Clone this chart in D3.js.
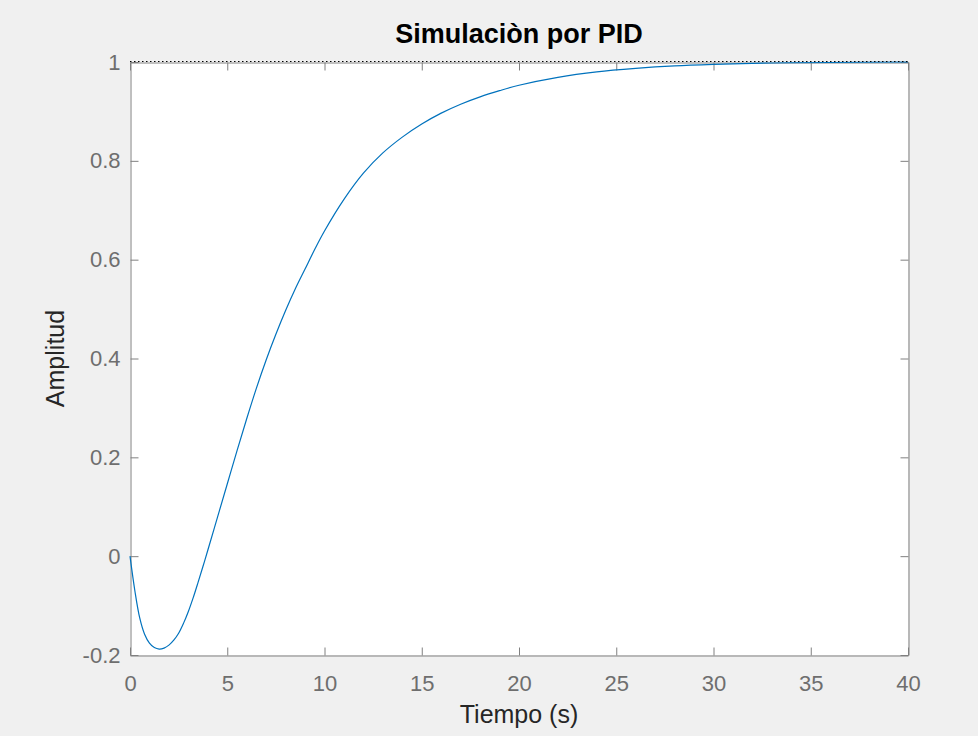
<!DOCTYPE html>
<html>
<head>
<meta charset="utf-8">
<script src="https://cdn.jsdelivr.net/npm/d3@7"></script>
<style>
  body { margin: 0; background: #f0f0f0; }
  svg { display: block; font-family: "Liberation Sans", Arial, sans-serif; }
</style>
</head>
<body>
<div class="grafico"></div>
<script>
// step response
const tiempo = [0, 0.25, 0.5, 0.75, 1, 1.25, 1.5, 1.75, 2, 2.25, 2.5, 2.75, 3, 3.25, 3.5, 3.75, 4, 4.5, 5, 5.5, 6, 6.5, 7, 7.5, 8,
    8.5, 9, 9.5, 10, 11, 12, 13, 14, 15, 16, 17, 18, 19, 20, 22, 24, 26, 28, 30, 33, 36, 40];
const amplitud = [0, -0.07, -0.125, -0.158, -0.176, -0.185, -0.188, -0.186, -0.18, -0.17, -0.156, -0.136, -0.112, -0.084, -0.053, -0.021, 0.012,
    0.079, 0.146, 0.213, 0.278, 0.34, 0.397, 0.449, 0.497,
    0.541, 0.581, 0.621, 0.658, 0.722, 0.775, 0.816, 0.848, 0.8745, 0.8965, 0.9146, 0.9295, 0.942, 0.953, 0.969, 0.98, 0.987, 0.992, 0.995, 0.998, 0.999, 1.0];
const xTicks = [0, 5, 10, 15, 20, 25, 30, 35, 40];
const yTicks = [-0.2, 0, 0.2, 0.4, 0.6, 0.8, 1];
const refValue = 1;

const width = 978, height = 736;
const margin = {top: 62, right: 70, bottom: 81, left: 130};

const svg = d3.select(".grafico")
    .append("svg")
    .attr("width", width)
    .attr("height", height);

svg.append("rect")
    .attr("width", width)
    .attr("height", height)
    .attr("fill", "#f0f0f0");

const x = d3.scaleLinear()
    .domain([0, 40])
    .range([margin.left, width - margin.right]);

const y = d3.scaleLinear()
    .domain([-0.2, 1])
    .range([height - margin.bottom, margin.top]);

// white plot area
svg.append("rect")
    .attr("x", x(0))
    .attr("y", y(1))
    .attr("width", x(40) - x(0))
    .attr("height", y(-0.2) - y(1))
    .attr("fill", "white");

const fmtY = d => d === 0 ? "0" : String(d);

function styleAxis(g) {
    g.selectAll("path").attr("stroke", "#808080").attr("stroke-width", 1);
    g.selectAll("line").attr("stroke", "#808080").attr("stroke-width", 1);
    g.selectAll("text")
        .attr("fill", "#6e6e6e")
        .style("font-size", "22px")
        .style("font-family", "'Liberation Sans', Arial, sans-serif");
}

// bottom
svg.append("g")
    .attr("transform", `translate(0, ${y(-0.2) + 0.5})`)
    .call(d3.axisBottom(x).tickValues(xTicks).tickSizeInner(-8).tickSizeOuter(0).tickPadding(20))
    .call(styleAxis);

// top
svg.append("g")
    .attr("transform", `translate(0, ${y(1) + 0.5})`)
    .call(d3.axisTop(x).tickValues(xTicks).tickSizeInner(-8).tickSizeOuter(0).tickFormat(""))
    .call(styleAxis);

// left
svg.append("g")
    .attr("transform", `translate(${x(0) + 0.5}, 0)`)
    .call(d3.axisLeft(y).tickValues(yTicks).tickSizeInner(-8).tickSizeOuter(0).tickPadding(10).tickFormat(fmtY))
    .call(styleAxis);

// right
svg.append("g")
    .attr("transform", `translate(${x(40) + 0.5}, 0)`)
    .call(d3.axisRight(y).tickValues(yTicks).tickSizeInner(-8).tickSizeOuter(0).tickFormat(""))
    .call(styleAxis);

const datos = tiempo.map((t, i) => ({t: t, v: amplitud[i]}));

const line = d3.line()
    .x(d => x(d.t))
    .y(d => y(d.v))
    .curve(d3.curveCatmullRom.alpha(0.5));

svg.append("path")
    .datum(datos)
    .attr("d", line)
    .attr("fill", "none")
    .attr("stroke", "#0072bd")
    .attr("stroke-width", 1.2);

// steady state reference (dotted)
svg.append("line")
    .attr("x1", x(0))
    .attr("x2", x(40))
    .attr("y1", y(refValue) - 0.5)
    .attr("y2", y(refValue) - 0.5)
    .attr("stroke", "#000")
    .attr("stroke-width", 1)
    .attr("stroke-dasharray", "1.5,2.5");

// title & labels
svg.append("text")
    .attr("x", (x(0) + x(40)) / 2)
    .attr("y", 43)
    .attr("text-anchor", "middle")
    .style("font-size", "27px")
    .style("font-weight", "bold")
    .attr("fill", "#000")
    .text("Simulaciòn por PID");

svg.append("text")
    .attr("x", (x(0) + x(40)) / 2)
    .attr("y", 723)
    .attr("text-anchor", "middle")
    .style("font-size", "25px")
    .attr("fill", "#262626")
    .text("Tiempo (s)");

svg.append("text")
    .attr("transform", `translate(64, ${(y(1) + y(-0.2)) / 2}) rotate(-90)`)
    .attr("text-anchor", "middle")
    .style("font-size", "25px")
    .attr("fill", "#262626")
    .text("Amplitud");
</script>
</body>
</html>
